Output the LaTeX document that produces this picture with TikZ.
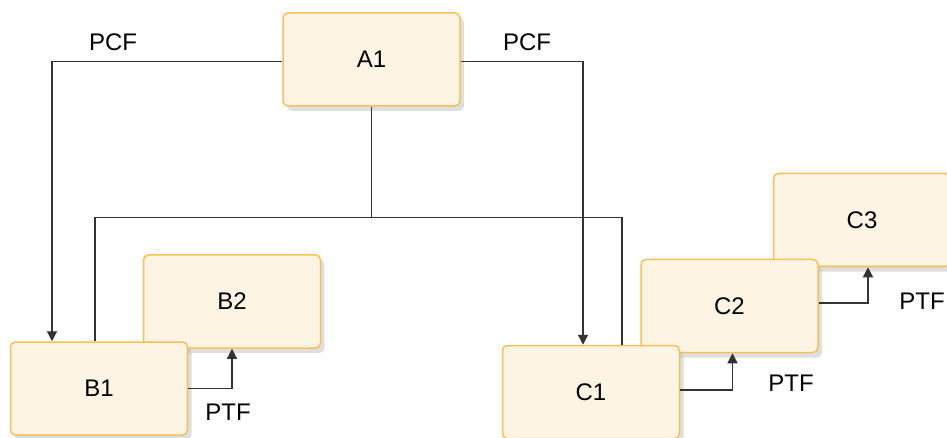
\documentclass[tikz,border=0pt]{standalone}
\usepackage{fontspec}
\setmainfont{Liberation Sans}
\usepackage{tikz}
\usetikzlibrary{arrows.meta, positioning, calc, shadows}
\definecolor{boxfill}{HTML}{FDF4E3}
\definecolor{boxline}{HTML}{F5C05A}
\definecolor{wire}{HTML}{333333}

\begin{document}
\begin{tikzpicture}[x=1pt, y=-1pt, font=\fontsize{24}{28}\selectfont,
    >={Triangle[length=10pt, width=10pt]},
    seg/.style={rectangle, rounded corners=5pt, draw=boxline, fill=boxfill,
      line width=1.5pt, minimum width=177pt, minimum height=93pt, align=center,
      drop shadow={shadow xshift=4pt, shadow yshift=-5pt, fill=black!25, opacity=0.5}},
    link/.style={draw=wire, line width=1.3pt},
    tag/.style={inner sep=0pt},
  ]
    \useasboundingbox (0,0) rectangle (947,438);

    % segments, back ones first
    \node[seg] (c3) at (862,220) {C3};
    \node[seg] (c2) at (729.5,306) {C2};
    \node[seg] (c1) at (591,392) {C1};
    \node[seg] (b2) at (232,301.5) {B2};
    \node[seg] (b1) at (99,388.5) {B1};
    \node[seg] (a1) at (371.5,59.5) {A1};

    % physical child pointers
    \draw[link, ->] ([yshift=-2pt]a1.west) -| ([xshift=-47pt]b1.north);
    \draw[link, ->] ([yshift=-2pt]a1.east) -| ([xshift=-8pt]c1.north);
    \node[tag] (pcfl) at (113,42) {PCF};
    \node[tag] (pcfr) at (527,42) {PCF};

    % hierarchy
    \coordinate (split) at ($(a1.south)+(0,111)$);
    \draw[link] (a1.south) -- (split);
    \draw[link] ([xshift=-4pt]b1.north) |- (split) -| ([xshift=31pt]c1.north);

    % physical twin pointers
    \draw[link, ->] (b1.east) -| (b2.south);
    \draw[link, ->] ([yshift=2pt]c1.east) -| ([xshift=3pt]c2.south);
    \draw[link, ->] ([yshift=3pt]c2.east) -| ([xshift=6pt]c3.south);
    \node[tag] (ptfb) at (228,412) {PTF};
    \node[tag] (ptfc) at (791,383) {PTF};
    \node[tag] (ptfd) at (922,301) {PTF};
  \end{tikzpicture}
\end{document}
